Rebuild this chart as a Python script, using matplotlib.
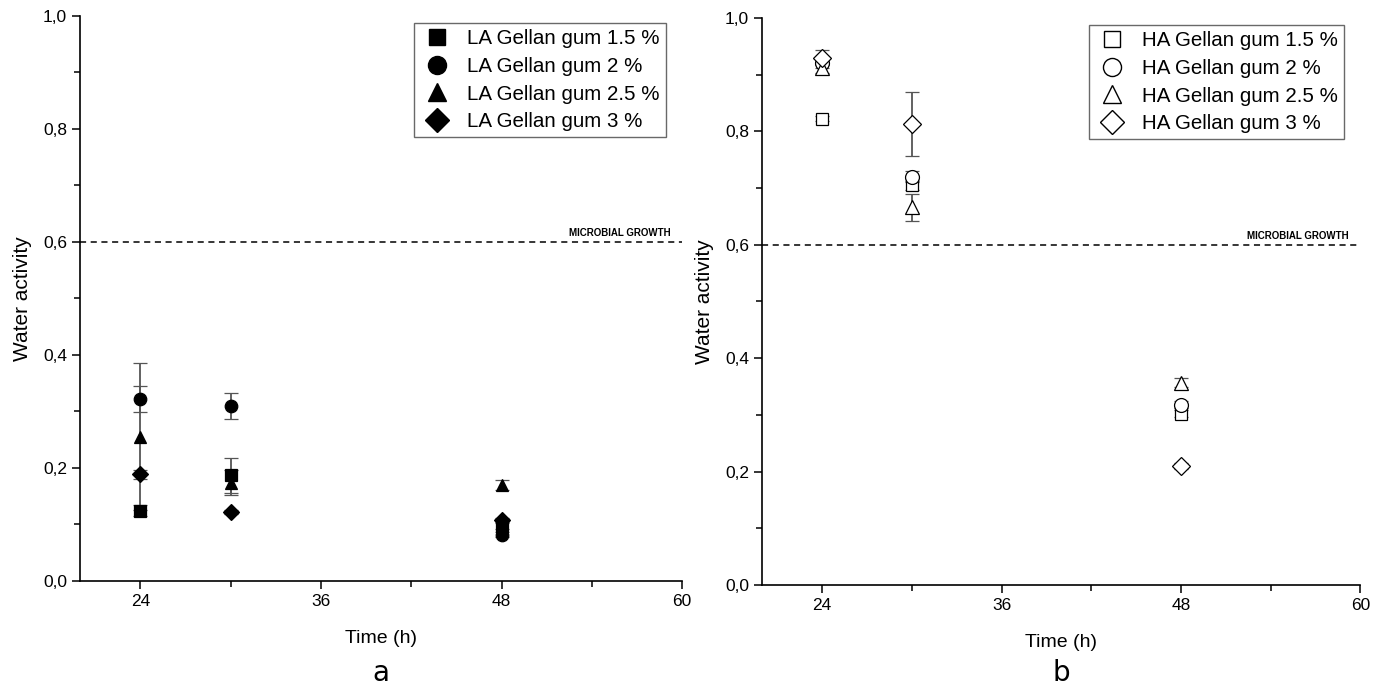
import matplotlib.pyplot as plt
from matplotlib.lines import Line2D
from matplotlib.ticker import FuncFormatter, MultipleLocator

plt.rcParams['font.family'] = ['Liberation Sans', 'DejaVu Sans']

time = [24, 30, 48]

# low acyl (LA) gellan gum, filled markers
la_labels = ['LA Gellan gum 1.5 %', 'LA Gellan gum 2 %', 'LA Gellan gum 2.5 %', 'LA Gellan gum 3 %']
la_mean = [[0.124, 0.187, 0.097],
           [0.322, 0.310, 0.082],
           [0.255, 0.174, 0.169],
           [0.189, 0.122, 0.108]]
la_err = [[0.010, 0.031, 0.005],
          [0.023, 0.023, 0.005],
          [0.130, 0.022, 0.009],
          [0.008, 0.004, 0.004]]

# high acyl (HA) gellan gum, open markers
ha_labels = ['HA Gellan gum 1.5 %', 'HA Gellan gum 2 %', 'HA Gellan gum 2.5 %', 'HA Gellan gum 3 %']
ha_mean = [[0.822, 0.705, 0.302],
           [0.920, 0.720, 0.318],
           [0.912, 0.666, 0.357],
           [0.930, 0.813, 0.210]]
ha_err = [[0.004, 0.008, 0.006],
          [0.008, 0.010, 0.006],
          [0.010, 0.024, 0.008],
          [0.014, 0.056, 0.005]]

markers = ['s', 'o', '^', 'D']
msizes = [8, 9, 9, 8]

fig = plt.figure(figsize=(13.81, 6.85), dpi=100)
ax1 = fig.add_axes([0.058, 0.152, 0.436, 0.825])
ax2 = fig.add_axes([0.552, 0.146, 0.433, 0.828])

comma = FuncFormatter(lambda v, p: f'{v:.1f}'.replace('.', ','))


def draw(ax, means, errs, labels, filled, letter):
    handles = []
    for m, e, lab, mk, ms in zip(means, errs, labels, markers, msizes):
        fc = 'black' if filled else 'white'
        ax.errorbar(time, m, yerr=e, fmt=mk, ms=ms if filled else ms + 1,
                    mfc=fc, mec='black', mew=0.9,
                    ecolor='#555555', elinewidth=1.3, capsize=5, capthick=1.3)
        handles.append(Line2D([], [], ls='none', marker=mk, ms=ms + 4,
                              mfc=fc, mec='black', mew=1.0, label=lab))
    ax.axhline(0.6, color='black', ls='--', lw=1.1, dashes=(4, 3))
    ax.text(0.98, 0.607, 'MICROBIAL GROWTH', transform=ax.get_yaxis_transform(),
            ha='right', va='bottom', fontsize=7, fontweight='bold')
    ax.set_xlim(20, 60)
    ax.set_ylim(0, 1.0)
    ax.set_xticks([24, 36, 48, 60])
    ax.xaxis.set_minor_locator(MultipleLocator(6))
    ax.yaxis.set_major_locator(MultipleLocator(0.2))
    ax.yaxis.set_minor_locator(MultipleLocator(0.1))
    ax.yaxis.set_major_formatter(comma)
    ax.spines['top'].set_visible(False)
    ax.spines['right'].set_visible(False)
    for s in ('left', 'bottom'):
        ax.spines[s].set_linewidth(1.2)
    ax.tick_params(which='major', direction='out', length=6, width=1.1, labelsize=12.5)
    ax.tick_params(which='minor', direction='out', length=4, width=1.1)
    ax.set_xlabel('Time (h)', fontsize=14, labelpad=15)
    ax.set_ylabel('Water activity', fontsize=15, labelpad=8)
    leg = ax.legend(handles=handles, loc='upper right', fontsize=14.8, frameon=True,
                    fancybox=False, edgecolor='#444444', handletextpad=0.6,
                    handlelength=1.7, borderpad=0.3, labelspacing=0.42,
                    bbox_to_anchor=(0.99, 1.005))
    leg.get_frame().set_linewidth(1.0)
    pos = ax.get_position()
    fig.text((pos.x0 + pos.x1) / 2, 0.006, letter, ha='center', va='baseline',
             fontsize=20, family=['DejaVu Sans'])


draw(ax1, la_mean, la_err, la_labels, True, 'a')
draw(ax2, ha_mean, ha_err, ha_labels, False, 'b')

fig.savefig('out.png', dpi=100)
